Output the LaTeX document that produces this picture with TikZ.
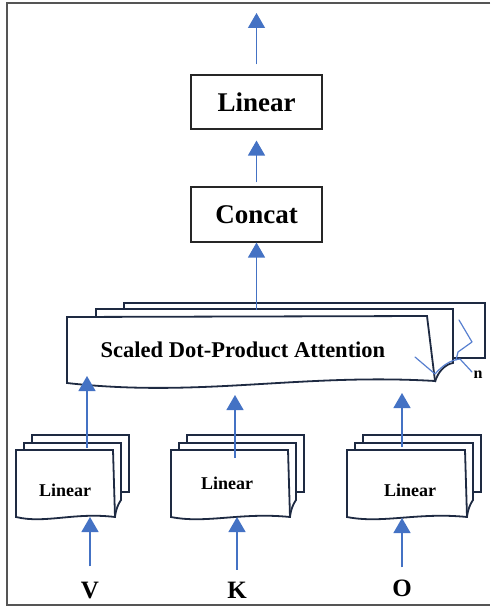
\documentclass[tikz,border=0pt]{standalone}
\usepackage{fontspec}
\setmainfont{Liberation Serif}
\usetikzlibrary{arrows.meta}
\definecolor{arrblue}{RGB}{68,114,196}
\definecolor{scrib}{RGB}{88,128,208}
\definecolor{navy}{RGB}{30,42,66}
\definecolor{framegray}{RGB}{85,85,85}
\newcommand\linstack[2]{%
  \filldraw[stackline] ({#1+16},435) rectangle ({#1+16+#2},492);
  \filldraw[stackline] ({#1+8},510) -- ({#1+8},443) -- ({#1+8+#2},443) -- ({#1+8+#2},500)
     .. controls ({#1+6+#2},503) and ({#1+3+#2},508) .. ({#1+2+#2},517);
  \filldraw[stackline] (#1,450) -- ({#1+#2},450) -- ({#1+2+#2},517)
     .. controls ({#1+0.6*#2},512) and ({#1+0.3*#2},524) .. (#1,517) -- cycle;
}
\begin{document}
\begin{tikzpicture}[x=1pt,y=-1pt,
  arr/.style={draw=arrblue, line width=1.3pt, -{Triangle[width=17pt,length=15pt]}},
  plainbox/.style={draw=black!85, line width=1.1pt, fill=white, inner sep=0pt,
    minimum width=131pt, font=\fontsize{27}{30}\selectfont\bfseries},
  stackline/.style={draw=navy, line width=1.8pt, fill=white, line join=miter},
  smalllab/.style={font=\fontsize{18}{20}\selectfont\bfseries, inner sep=0pt},
  letterlab/.style={font=\fontsize{25}{28}\selectfont\bfseries, inner sep=0pt},
  scribline/.style={draw=scrib, line width=1.2pt, line join=round, line cap=round}
]
\useasboundingbox (0,0) rectangle (490,607);
% frame
\draw[framegray, line width=1.5pt] (490,3) -- (7,3) -- (7,605) -- (490,605);

% top boxes
\node[plainbox, minimum height=54pt] (lin) at (256.5,102) {Linear};
\node[plainbox, minimum height=55pt] (cc) at (256.5,214.5) {Concat};

% scaled dot-product attention stack
\filldraw[stackline] (124,303) rectangle (485,358);
\filldraw[stackline] (96,382) -- (96,309) -- (453,309) -- (453,363)
   .. controls (446,364) and (438,371) .. (435,382);
\filldraw[stackline] (67,317) -- (427,316) -- (435,381)
   .. controls (300,373) and (200,398) .. (67,383) -- cycle;
\node[font=\fontsize{22.5}{26}\selectfont\bfseries, inner sep=0pt] (sdpa) at (243,350) {Scaled Dot-Product Attention};

% scribble and n
\draw[scribline] (415,357) -- (435,374) .. controls (442,366) and (450,360) .. (460,359) -- (472,372);
\draw[scribline] (459,320) -- (472,342) -- (458,352) -- (456,360);
\node[font=\fontsize{16}{18}\selectfont\bfseries, inner sep=0pt] (nlab) at (478,375) {n};

% lower stacks
\linstack{16}{97}
\linstack{171}{117}
\linstack{347}{118}
\node[smalllab] (lv) at (65,490) {Linear};
\node[smalllab] (lk) at (227,483) {Linear};
\node[smalllab] (lo) at (410,490) {Linear};

% input labels
\node[letterlab] (v) at (90,590) {V};
\node[letterlab] (k) at (237,590) {K};
\node[letterlab] (o) at (402,588) {O};

% coordinates for arrow ends
\coordinate (outtop) at (256.5,13);
\coordinate (sctop) at (256.5,310);
\coordinate (vtop) at (87,448);
\coordinate (vtip) at (87,376);
\coordinate (ktop) at (235,458);
\coordinate (ktip) at (235,395);
\coordinate (otop) at (402,447);
\coordinate (otip) at (402,393);
\coordinate (vin) at (90,517);
\coordinate (kin) at (237,517);
\coordinate (oin) at (402,518);

% arrows
\draw[arr] ([yshift=10pt]lin.north) -- (outtop);
\draw[arr] ([yshift=4pt]cc.north) -- ([yshift=-11pt]lin.south);
\draw[arr] (sctop) -- (cc.south);
\draw[arr] (vtop) -- (vtip);
\draw[arr] (ktop) -- (ktip);
\draw[arr] (otop) -- (otip);
\draw[arr] ([yshift=15pt]v.north) -- (vin);
\draw[arr] ([yshift=12pt]k.north) -- (kin);
\draw[arr] ([yshift=12pt]o.north) -- (oin);
\end{tikzpicture}
\end{document}
